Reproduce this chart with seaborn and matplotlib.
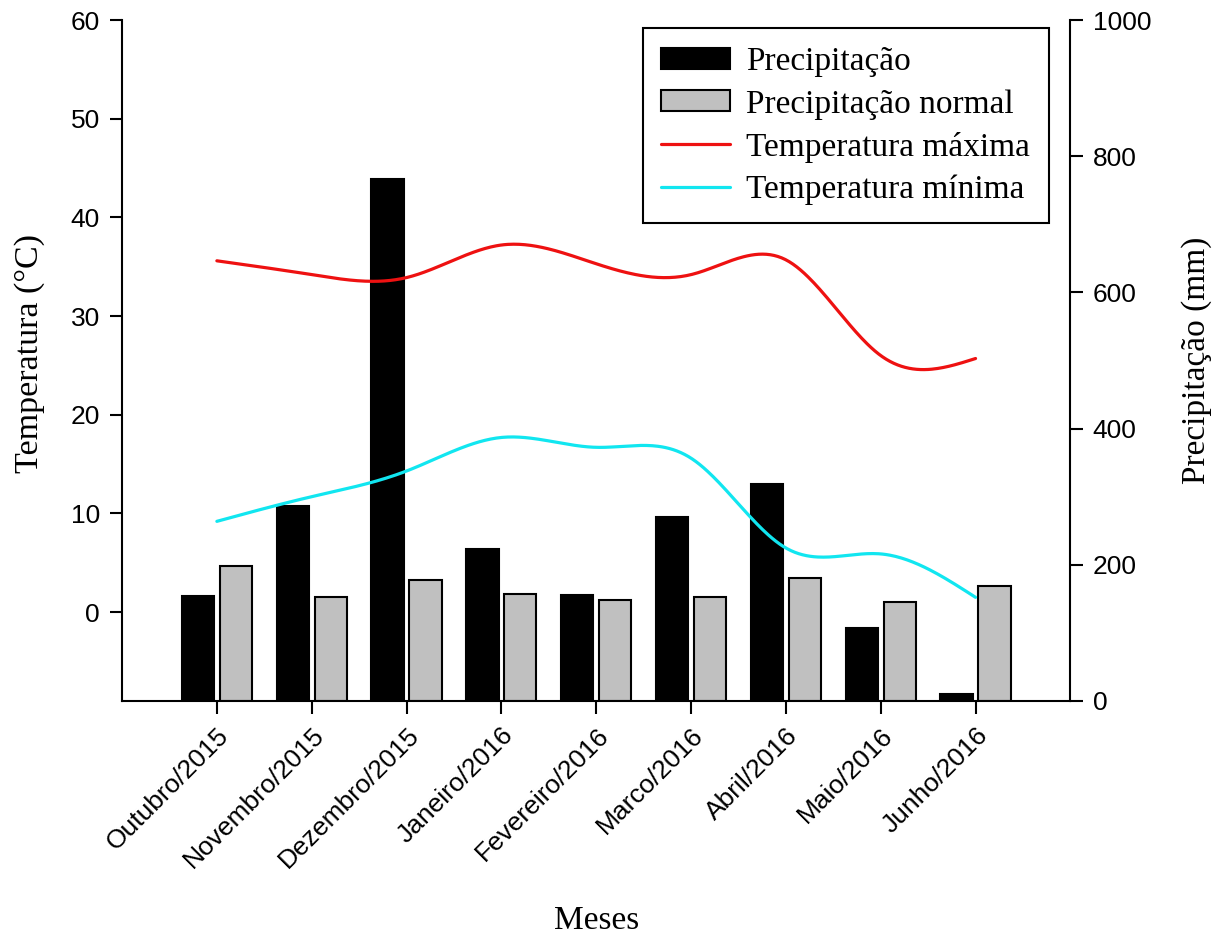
import numpy as np
import pandas as pd
import matplotlib
matplotlib.use("Agg")
import matplotlib.pyplot as plt
import seaborn as sns
from matplotlib.patches import Patch
from matplotlib.lines import Line2D

meses = ["Outubro/2015", "Novembro/2015", "Dezembro/2015", "Janeiro/2016",
         "Fevereiro/2016", "Marco/2016", "Abril/2016", "Maio/2016", "Junho/2016"]
precipitacao = [154, 286, 767, 223, 156, 270, 319, 107, 10]
precip_normal = [198, 153, 178, 157, 148, 153, 181, 145, 169]
temp_max = [35.6, 34.2, 33.9, 37.2, 35.3, 34.2, 35.7, 26.0, 25.7]
temp_min = [9.2, 11.7, 14.3, 17.7, 16.7, 15.6, 6.5, 5.9, 1.5]

sns.set_style("ticks")
serif = ["Liberation Serif", "DejaVu Serif"]
sans = ["Liberation Sans", "DejaVu Sans"]
plt.rcParams["font.family"] = sans
plt.rcParams["text.color"] = "black"
plt.rcParams["axes.labelcolor"] = "black"


def natural_spline(x, y, n=400):
    x = np.asarray(x, float)
    y = np.asarray(y, float)
    k = len(x)
    h = np.diff(x)
    A = np.zeros((k, k))
    b = np.zeros(k)
    A[0, 0] = A[-1, -1] = 1
    for i in range(1, k - 1):
        A[i, i - 1] = h[i - 1]
        A[i, i] = 2 * (h[i - 1] + h[i])
        A[i, i + 1] = h[i]
        b[i] = 6 * ((y[i + 1] - y[i]) / h[i] - (y[i] - y[i - 1]) / h[i - 1])
    M = np.linalg.solve(A, b)
    xs = np.linspace(x[0], x[-1], n)
    idx = np.clip(np.searchsorted(x, xs) - 1, 0, k - 2)
    x0, x1 = x[idx], x[idx + 1]
    hh = x1 - x0
    t0 = x1 - xs
    t1 = xs - x0
    ys = (M[idx] * t0 ** 3 / (6 * hh) + M[idx + 1] * t1 ** 3 / (6 * hh)
          + (y[idx] / hh - M[idx] * hh / 6) * t0
          + (y[idx + 1] / hh - M[idx + 1] * hh / 6) * t1)
    return xs, ys


fig = plt.figure(figsize=(12.24, 9.39), dpi=100)
ax1 = fig.add_axes([0.0997, 0.2535, 0.7748, 0.7252])
ax2 = ax1.twinx()

bars = pd.DataFrame({
    "Mes": meses * 2,
    "Valor": precipitacao + precip_normal,
    "Serie": ["Precipitação"] * len(meses) + ["Precipitação normal"] * len(meses),
})
sns.barplot(data=bars, x="Mes", y="Valor", hue="Serie", order=meses,
            palette=["black", "#c0c0c0"], width=0.8, gap=0.15,
            edgecolor="black", linewidth=1.5, ax=ax2, legend=False)

xpos = np.arange(len(meses))
xs, ymax_s = natural_spline(xpos, temp_max)
_, ymin_s = natural_spline(xpos, temp_min)
sns.lineplot(x=xs, y=ymax_s, color="#ee1111", linewidth=2.3, ax=ax1)
sns.lineplot(x=xs, y=ymin_s, color="#11e6f0", linewidth=2.3, ax=ax1)

ax1.set_zorder(ax2.get_zorder() + 1)
ax1.patch.set_visible(False)

ax1.set_xlim(-1, 9)
ax1.set_ylim(-9, 60)
ax1.set_yticks([0, 10, 20, 30, 40, 50, 60])
ax2.set_ylim(0, 1000)
ax2.set_yticks([0, 200, 400, 600, 800, 1000])

ax1.set_xticks(xpos)
ax1.set_xticklabels(meses, rotation=45, ha="right", rotation_mode="anchor",
                    fontsize=19, family=sans)
ax2.set_xlabel("")
ax2.set_ylabel("")

for ax in (ax1, ax2):
    ax.tick_params(axis="both", direction="out", length=9, width=1.5,
                   labelsize=19, colors="black", pad=7)
    for s in ax.spines.values():
        s.set_linewidth(1.5)
        s.set_color("black")
    ax.spines["top"].set_visible(False)

ax1.spines["right"].set_visible(False)
ax2.spines["left"].set_visible(False)
ax2.spines["bottom"].set_visible(False)

ax1.set_ylabel("Temperatura (°C)", fontsize=24.5, family=serif, color="black")
ax1.yaxis.set_label_coords(-0.081, 0.51)
ax2.set_ylabel("Precipitação (mm)", fontsize=24, family=serif, color="black")
ax2.yaxis.set_label_coords(1.117, 0.50)
ax1.set_xlabel("Meses", fontsize=24, family=serif, color="black")
ax1.xaxis.set_label_coords(0.5, -0.30)

handles = [
    Patch(facecolor="black", edgecolor="black", linewidth=1.5, label="Precipitação"),
    Patch(facecolor="#c0c0c0", edgecolor="black", linewidth=1.5, label="Precipitação normal"),
    Line2D([0], [0], color="#ee1111", linewidth=2.3, label="Temperatura máxima"),
    Line2D([0], [0], color="#11e6f0", linewidth=2.3, label="Temperatura mínima"),
]
leg = ax1.legend(handles=handles, loc="upper right", bbox_to_anchor=(0.977, 0.988),
                 prop={"family": serif, "size": 24}, frameon=True, fancybox=False,
                 edgecolor="black", framealpha=1, handlelength=2.05,
                 handleheight=0.6, labelspacing=0.36, borderpad=0.55,
                 handletextpad=0.5, borderaxespad=0, labelcolor="black")
leg.get_frame().set_linewidth(1.5)

fig.savefig("out.png", dpi=100)
